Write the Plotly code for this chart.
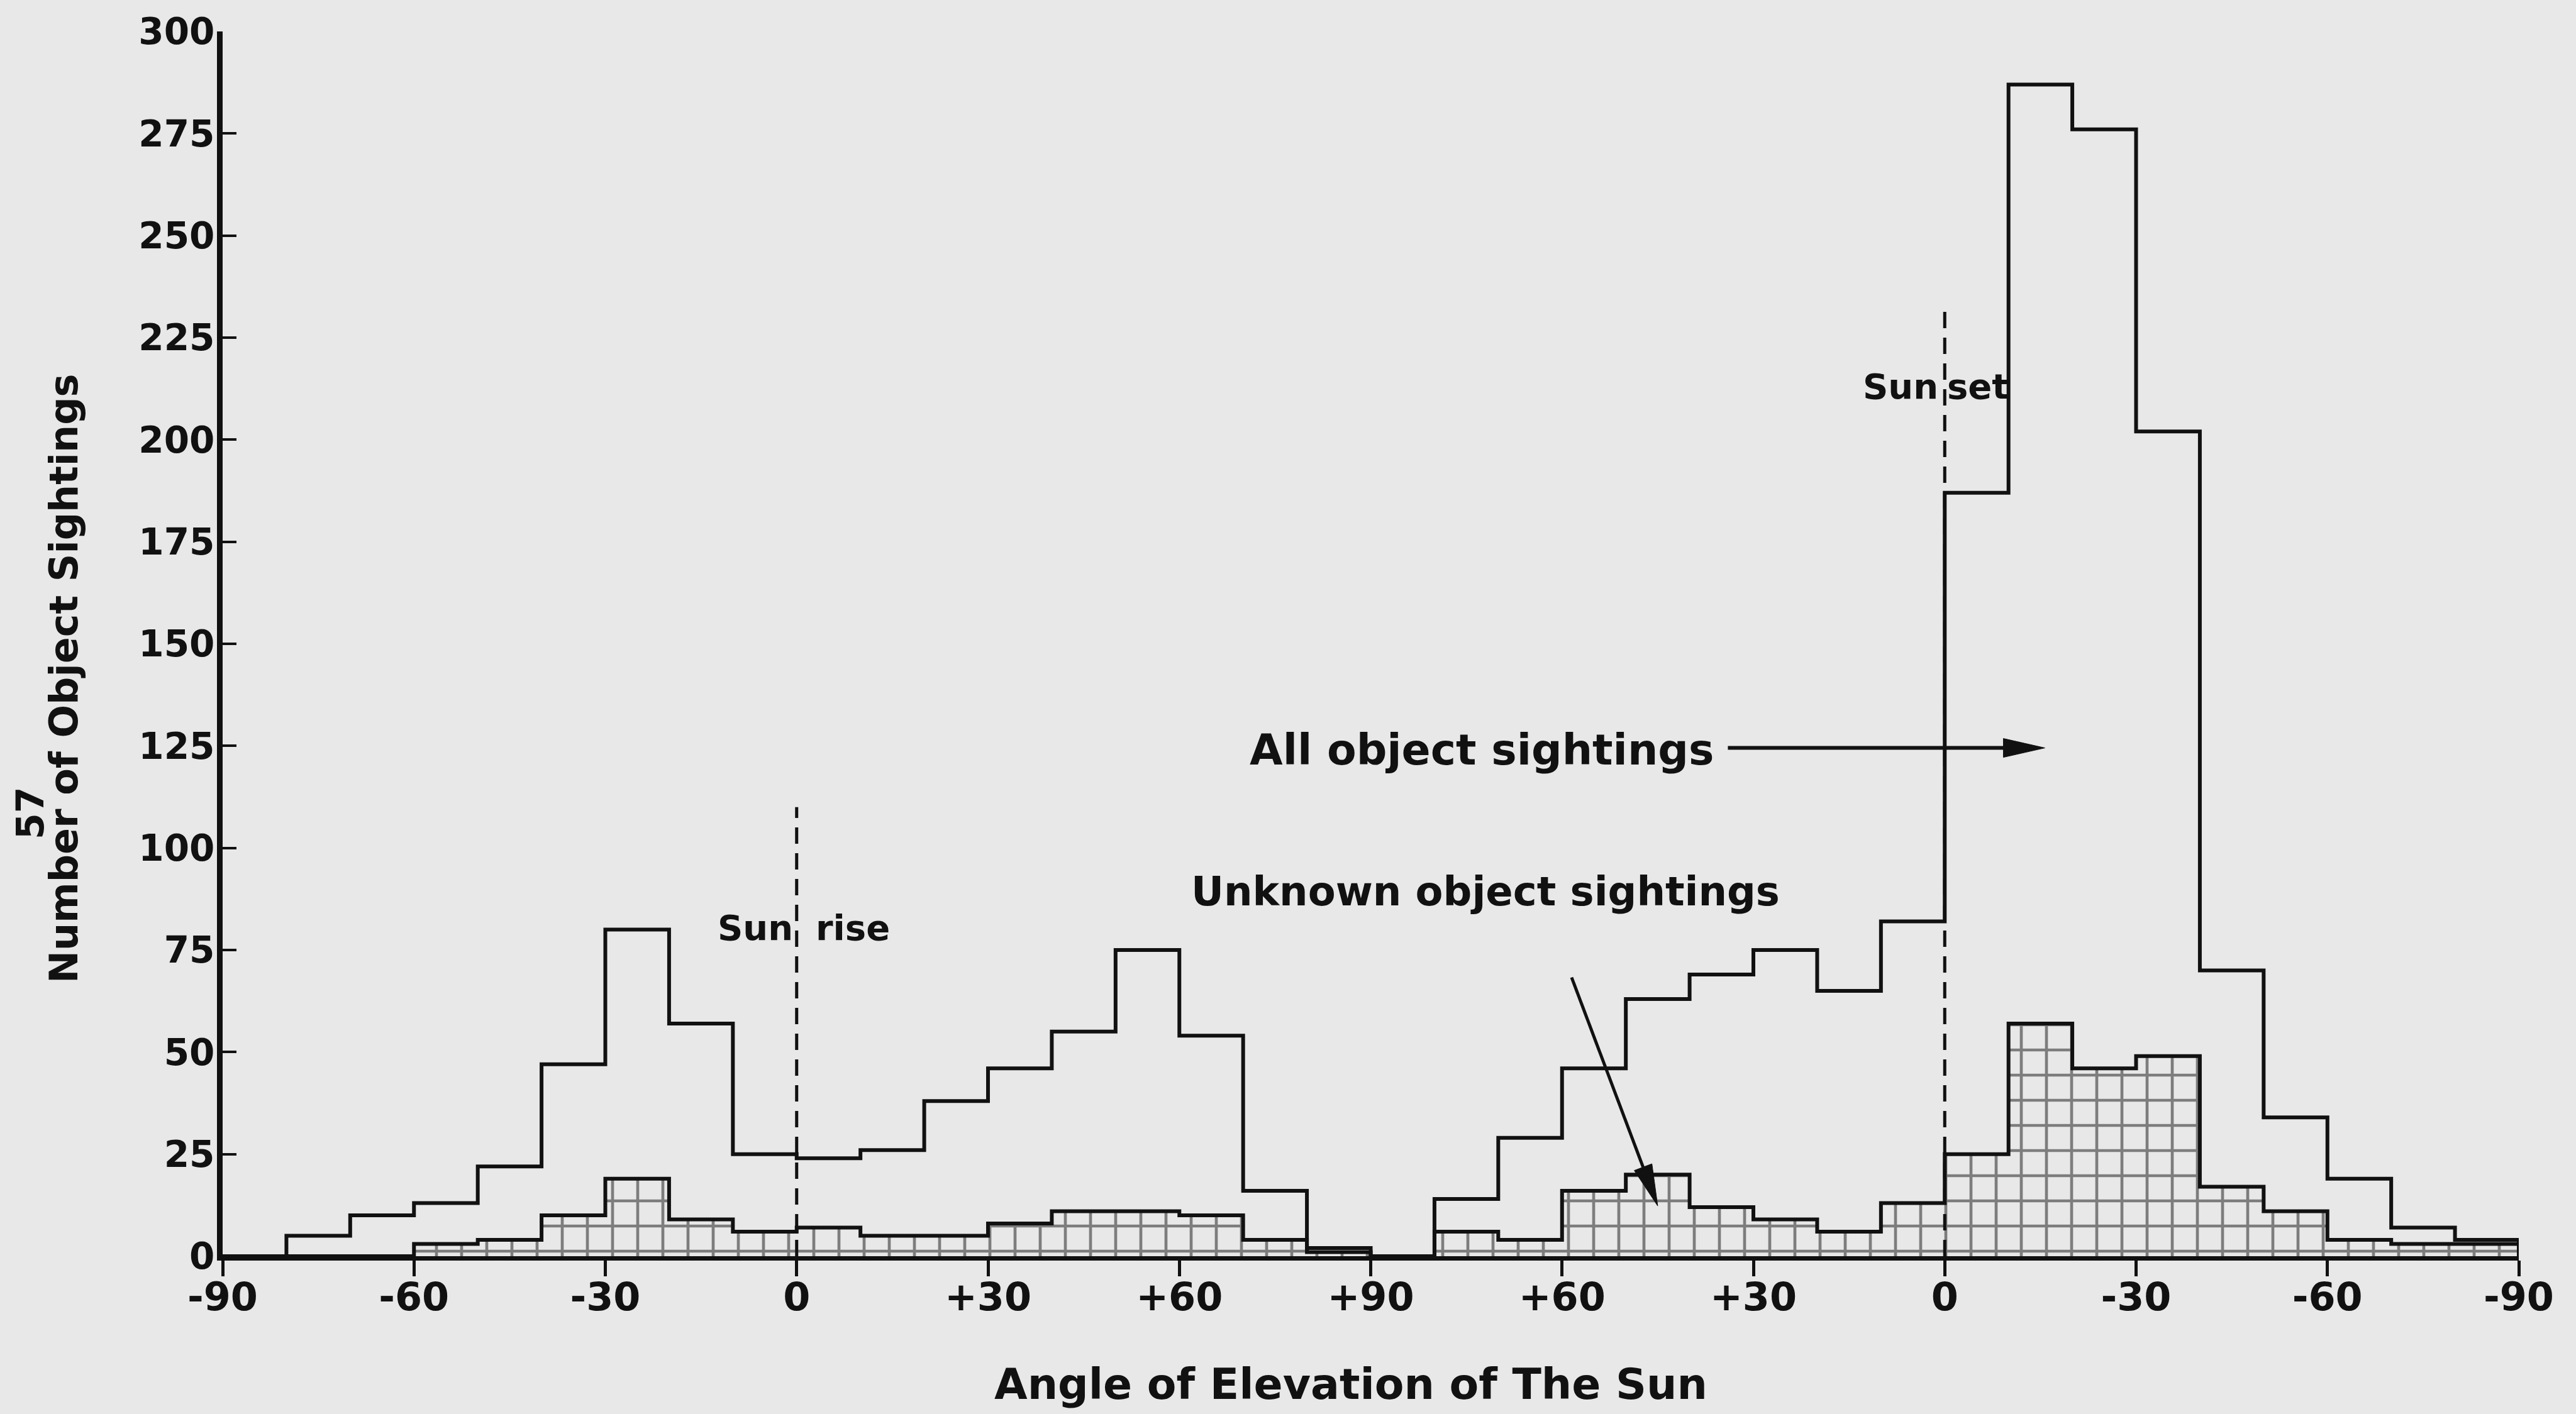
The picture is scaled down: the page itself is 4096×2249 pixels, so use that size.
import math
import plotly.graph_objects as go

# Position along the sun's daily path, in degrees: 0 is -90 (before sunrise),
# 90 is sunrise, 180 is the +90 zenith, 270 is sunset and 360 is -90 again.
bin_left = list(range(0, 360, 10))
bin_width = 10

# Counts per 10-degree bin, morning half then evening half
all_sightings = [
    0, 5, 10, 13, 22, 47, 80, 57, 25, 24, 26, 38, 46, 55, 75, 54, 16, 2,
    0, 14, 29, 46, 63, 69, 75, 65, 82, 187, 287, 276, 202, 70, 34, 19, 7, 4,
]
unknown_sightings = [
    0, 0, 0, 3, 4, 10, 19, 9, 6, 7, 5, 5, 8, 11, 11, 10, 4, 1,
    0, 6, 4, 16, 20, 12, 9, 6, 13, 25, 57, 46, 49, 17, 11, 4, 3, 3,
]

x_tick_positions = [0, 30, 60, 90, 120, 150, 180, 210, 240, 270, 300, 330, 360]
x_tick_labels = ["-90", "-60", "-30", "0", "+30", "+60", "+90",
                 "+60", "+30", "0", "-30", "-60", "-90"]
y_tick_values = [0, 25, 50, 75, 100, 125, 150, 175, 200, 225, 250, 275, 300]

# Horizon crossings and how high their dashed markers reach
sunrise_position, sunrise_marker_top = 90, 110
sunset_position, sunset_marker_top = 270, 232

# Callout arrows: (tail x, tail y, tip x, tip y) in data units
all_arrow = (236.0, 124.5, 285.7, 124.5)
unknown_arrow = (211.5, 68.3, 225.0, 12.3)

BG = "#e8e8e8"
INK = "#111111"
FONT = "DejaVu Sans"

W, H = 4096, 2249
M_L, M_R, M_T, M_B = 354, 91, 50, 251
X_RANGE = (0, 360)
Y_RANGE = (0, 300)
plot_w = W - M_L - M_R
plot_h = H - M_T - M_B
kx = plot_w / (X_RANGE[1] - X_RANGE[0])   # px per degree
ky = plot_h / (Y_RANGE[1] - Y_RANGE[0])   # px per sighting

edges = bin_left + [bin_left[-1] + bin_width]
centers = [b + bin_width / 2 for b in bin_left]

fig = go.Figure()

# Cross-hatched unknown-object histogram
fig.add_trace(go.Bar(
    x=centers, y=unknown_sightings, width=bin_width,
    marker=dict(
        color="rgba(0,0,0,0)",
        line=dict(width=0),
        pattern=dict(shape="+", size=40, solidity=0.22, fgcolor=INK,
                     bgcolor="rgba(0,0,0,0)", fillmode="overlay"),
    ),
    hoverinfo="skip",
))

# Outline of the unknown-object histogram
fig.add_trace(go.Scatter(
    x=edges, y=unknown_sightings + [0], mode="lines",
    line=dict(shape="hv", color=INK, width=6),
    hoverinfo="skip",
))

# Outline of the all-object histogram
fig.add_trace(go.Scatter(
    x=edges, y=all_sightings + [0], mode="lines",
    line=dict(shape="hv", color=INK, width=6),
    hoverinfo="skip",
))

shapes = []
# Dashed sunrise / sunset markers
for pos, top in ((sunrise_position, sunrise_marker_top),
                 (sunset_position, sunset_marker_top)):
    shapes.append(dict(type="line", xref="x", yref="y", x0=pos, x1=pos,
                       y0=0, y1=top,
                       line=dict(color=INK, width=5, dash="26px,15px")))


def arrow_shapes(tail_x, tail_y, tip_x, tip_y, head_len=66, head_half=15, width=6):
    dx = (tip_x - tail_x) * kx
    dy = (tip_y - tail_y) * ky
    n = math.hypot(dx, dy)
    ux, uy = dx / n, dy / n
    bx = tip_x - ux * head_len / kx
    by = tip_y - uy * head_len / ky
    px, py = -uy, ux
    c1 = (bx + px * head_half / kx, by + py * head_half / ky)
    c2 = (bx - px * head_half / kx, by - py * head_half / ky)
    return [
        dict(type="line", xref="x", yref="y", x0=tail_x, y0=tail_y,
             x1=bx, y1=by, line=dict(color=INK, width=width)),
        dict(type="path", xref="x", yref="y",
             path=f"M {tip_x},{tip_y} L {c1[0]},{c1[1]} L {c2[0]},{c2[1]} Z",
             fillcolor=INK, line=dict(color=INK, width=1)),
    ]


shapes += arrow_shapes(*all_arrow)
shapes += arrow_shapes(*unknown_arrow, width=5)


def font(size):
    return dict(family=FONT, size=size, color=INK, weight="bold")


annotations = [
    dict(text="Sun", x=sunrise_position, y=80.4, xref="x", yref="y",
         xanchor="right", yanchor="middle", xshift=-4, showarrow=False, font=font(56)),
    dict(text="rise", x=sunrise_position, y=80.4, xref="x", yref="y",
         xanchor="left", yanchor="middle", xshift=28, showarrow=False, font=font(56)),
    dict(text="Sun", x=sunset_position, y=213, xref="x", yref="y",
         xanchor="right", yanchor="middle", xshift=-8, showarrow=False, font=font(56)),
    dict(text="set", x=sunset_position, y=213, xref="x", yref="y",
         xanchor="left", yanchor="middle", xshift=2, showarrow=False, font=font(56)),
    dict(text="All object sightings", x=197.4, y=124, xref="x", yref="y",
         xanchor="center", yanchor="middle", showarrow=False, font=font(68)),
    dict(text="Unknown object sightings", x=198, y=89.4, xref="x", yref="y",
         xanchor="center", yanchor="middle", showarrow=False, font=font(64)),
    dict(text="Angle of Elevation of The Sun", x=0.4914, y=-0.1047,
         xref="paper", yref="paper", xanchor="center", yanchor="middle",
         showarrow=False, font=font(68)),
    dict(text="Number of Object Sightings", x=-0.069, y=0.4713,
         xref="paper", yref="paper", xanchor="center", yanchor="middle",
         textangle=-90, showarrow=False, font=font(62)),
    dict(text="57", x=-0.0838, y=0.3619, xref="paper", yref="paper",
         xanchor="center", yanchor="middle", textangle=-90, showarrow=False,
         font=font(60)),
]

fig.update_layout(
    width=W, height=H,
    margin=dict(l=M_L, r=M_R, t=M_T, b=M_B, pad=0),
    paper_bgcolor=BG, plot_bgcolor=BG,
    showlegend=False, bargap=0,
    font=dict(family=FONT, color=INK),
    shapes=shapes, annotations=annotations,
    xaxis=dict(
        range=list(X_RANGE), tickmode="array",
        tickvals=x_tick_positions, ticktext=x_tick_labels,
        ticks="outside", ticklen=25, tickwidth=5, tickcolor=INK,
        showline=True, linewidth=7, linecolor=INK,
        showgrid=False, zeroline=False,
        tickfont=font(62),
        ticklabelstandoff=-20,
    ),
    yaxis=dict(
        range=list(Y_RANGE), tickmode="array", tickvals=y_tick_values,
        ticks="inside", ticklen=22, tickwidth=4, tickcolor=INK,
        showline=True, linewidth=9, linecolor=INK,
        showgrid=False, zeroline=False,
        tickfont=font(58),
        ticklabelstandoff=-8,
    ),
)

fig.write_html("out.html")
